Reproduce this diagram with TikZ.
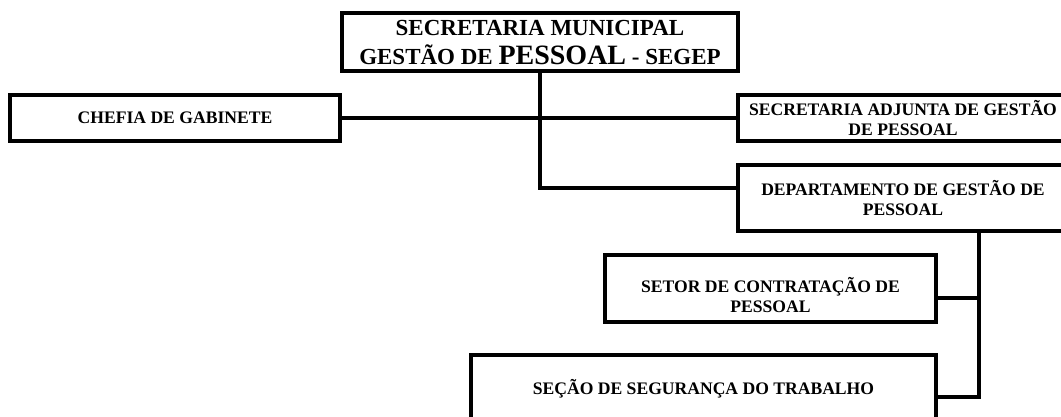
\documentclass[tikz,border=0pt]{standalone}
\usepackage{fontspec}
\setmainfont{Liberation Serif}
\begin{document}
\begin{tikzpicture}[x=1pt,y=-1pt,
  box/.style={draw, line width=4pt, rectangle, inner sep=0pt, outer sep=0pt, align=center,
    font=\bfseries\fontsize{17.6}{20}\selectfont},
  conn/.style={line width=4pt}]
\useasboundingbox (0,0) rectangle (1061,416);
\fill[white] (0,0) rectangle (1061,416);
\clip (0,0) rectangle (1061,416);
\node[box, minimum width=396pt, minimum height=57pt,
  font=\bfseries\fontsize{23}{29}\selectfont] (top) at (540,41.5)
  {\raisebox{-2.5pt}[\height][\depth]{\begin{tabular}{@{}c@{}}SECRETARIA MUNICIPAL\\GESTÃO DE {\fontsize{28}{29}\selectfont PESSOAL} - SEGEP\end{tabular}}};
\node[box, minimum width=330pt, minimum height=46pt] (chefia) at (175,118) {CHEFIA DE GABINETE};
\node[box, minimum width=330pt, minimum height=46pt] (adj) at (903,118) {SECRETARIA ADJUNTA DE GESTÃO\\DE PESSOAL};
\node[box, minimum width=330pt, minimum height=66pt] (dep) at (903,198) {DEPARTAMENTO DE GESTÃO DE\\PESSOAL};
\node[box, minimum width=331pt, minimum height=67pt] (set) at (770.5,288.5)
  {\raisebox{-9.5pt}[\height][\depth]{\begin{tabular}{@{}c@{}}SETOR DE CONTRATAÇÃO DE\\PESSOAL\end{tabular}}};
\node[box, minimum width=465pt, minimum height=68pt] (sec) at (703.5,389) {SEÇÃO DE SEGURANÇA DO TRABALHO};
\coordinate (t1) at ([yshift=10pt]dep.west);
\draw[conn] (top.south) |- (t1);
\draw[conn] (chefia.east) -- (adj.west);
\coordinate (d1) at ([xshift=76pt]dep.south);
\draw[conn] (d1) |- ([yshift=-8pt]sec.east);
\draw[conn] ([yshift=-9.5pt]set.east) -| (d1);
\end{tikzpicture}
\end{document}
